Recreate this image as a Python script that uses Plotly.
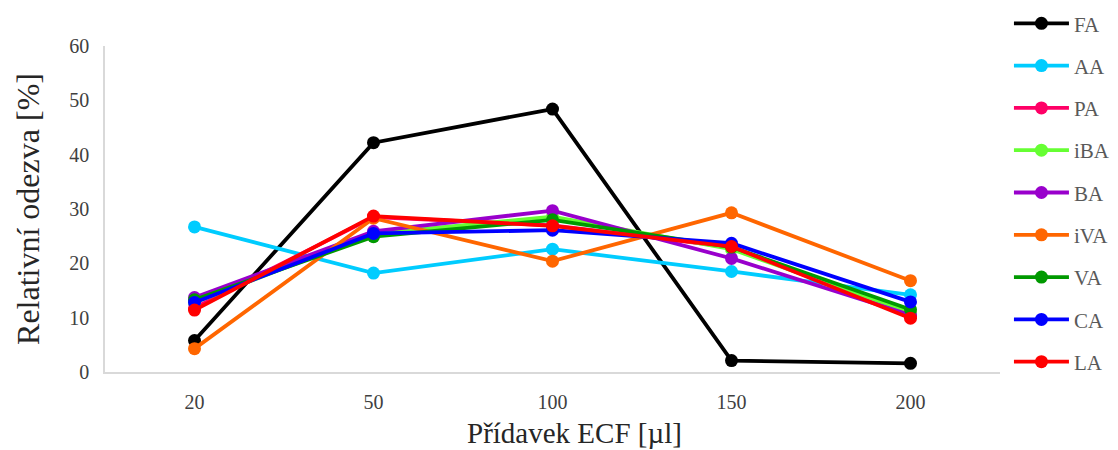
import plotly.graph_objects as go

# Added ECF volume [µl] (categories on the x axis)
additions = ["20", "50", "100", "150", "200"]

# Relative response [%] for each acid
fa = [5.8, 42.2, 48.4, 2.1, 1.6]
aa = [26.7, 18.2, 22.6, 18.5, 14.2]
pa = [11.8, 28.5, 27.0, 23.0, 10.3]
iba = [12.8, 25.4, 28.6, 22.6, 11.0]
ba = [13.7, 25.9, 29.7, 20.9, 10.5]
iva = [4.3, 28.3, 20.4, 29.3, 16.8]
va = [13.3, 24.9, 28.0, 23.0, 11.5]
ca = [12.8, 25.5, 26.1, 23.7, 12.9]
la = [11.4, 28.7, 26.9, 23.1, 9.9]

series = [
    ("FA", fa, "#000000"),
    ("AA", aa, "#00CCFF"),
    ("PA", pa, "#FF0066"),
    ("iBA", iba, "#66FF33"),
    ("BA", ba, "#9900CC"),
    ("iVA", iva, "#FF6600"),
    ("VA", va, "#009900"),
    ("CA", ca, "#0000FF"),
    ("LA", la, "#FF0000"),
]

fig = go.Figure()
for name, values, color in series:
    fig.add_trace(go.Scatter(
        x=additions, y=values, name=name, legendgroup=name,
        mode="lines+markers",
        line=dict(color=color, width=3.8),
        marker=dict(color=color, size=13),
    ))

fig.update_layout(
    width=1118, height=450,
    margin=dict(l=105, r=118, t=46, b=78, autoexpand=False),
    plot_bgcolor="white", paper_bgcolor="white",
    font=dict(family="Liberation Serif", color="#404040", size=20),
    showlegend=True,
    legend=dict(
        x=1.01, xanchor="left", y=0.993, yref="container", yanchor="top",
        font=dict(size=21, color="#595959"),
        tracegroupgap=12, itemwidth=55,
        bgcolor="rgba(0,0,0,0)",
    ),
    xaxis=dict(
        type="category", range=[-0.5, 4.5],
        showline=True, linecolor="#D9D9D9", linewidth=1.5,
        showgrid=False, ticks="", zeroline=False,
        tickfont=dict(size=20, color="#404040"),
        ticklabelstandoff=11,
    ),
    yaxis=dict(
        range=[0, 60], dtick=10,
        showline=True, linecolor="#D9D9D9", linewidth=1.5,
        showgrid=False, ticks="", zeroline=False,
        tickfont=dict(size=20, color="#404040"),
        ticklabelstandoff=10,
        title=dict(text="Relativní odezva [%]", font=dict(size=32, color="#262626"), standoff=20),
    ),
    annotations=[dict(
        text="Přídavek ECF [µl]", xref="paper", yref="paper",
        x=0.525, y=-0.238, xanchor="center", yanchor="bottom",
        borderpad=0, showarrow=False, font=dict(size=29, color="#262626"),
    )],
)

# allow the legend to run taller than the plotting area
try:
    fig.update_layout(legend_maxheight=440)
except ValueError:
    pass

fig.write_html("out.html")
